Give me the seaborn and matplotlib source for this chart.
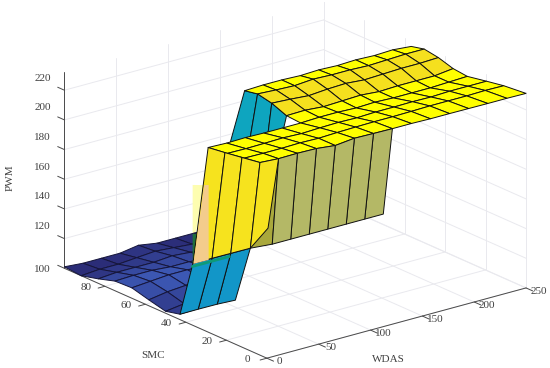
import numpy as np
import seaborn as sns
from matplotlib import pyplot as plt
from matplotlib.colors import to_rgba
from mpl_toolkits.mplot3d import proj3d

# tick labels
wdas_ticks = [0, 50, 100, 150, 200, 250]
smc_ticks = [0, 20, 40, 60, 80]
pwm_ticks = [100, 120, 140, 160, 180, 200, 220]

# grid columns of the surface
wdas_grid = [0, 17.9, 35.7, 53.6, 71.4, 89.3, 107.1, 125, 142.9, 160.7, 178.6, 196.4, 214.3, 232.1, 250]

# low plateau, rows from SMC 100 down to 43
low_smc = [100, 91.7, 83.3, 75, 66.7, 58.3, 50, 43]
low_wdas_limit = [142.9, 142.9, 125, 107.1, 89.3, 71.4, 53.6, 35.7]
low_pwm = [[101, 100, 100, 100, 102, 100, 100, 100, 100],
           [100, 101, 101, 102, 103, 102, 101, 101, 101],
           [103, 104, 104, 104, 105, 104, 102, 102, 102],
           [106.5, 107, 107, 106, 106, 105, 104, 104, 104],
           [107, 108, 109, 109, 108, 106, 106, 106, 106],
           [104, 106, 107, 108, 108, 108, 108, 108, 108],
           [101.3, 103, 104, 105, 105, 105, 105, 105, 105],
           [103.6, 104, 105, 105, 105, 105, 105, 105, 105]]

# high plateau, near part (all columns)
near_smc = [3.4, 3.4, 3.2, 3, 2.8, 2.5, 2.2, 2, 1.8, 1.5, 1.2, 0.9, 0.6, 0.3, 0]
front_smc = [11, 19.5, 29]
front_pwm = [[229.8, 229, 229.4, 229.3, 228.1, 229.8, 229.8, 229.8, 230, 230, 230.3, 230.5, 230.7, 231, 231.1],
             [228.2, 228, 228, 228.3, 228, 228.5, 228.8, 229, 229, 229.2, 229.5, 229.5, 229.5, 229.8, 229.6],
             [226.2, 226, 226.2, 226.5, 226, 226.5, 226.8, 226.5, 227, 227, 227.2, 227, 227.5, 227.5, 227.5],
             [224.4, 224, 224.3, 224, 224, 224, 224.5, 224.5, 224, 224.5, 224, 224, 224, 224.5, 225]]

# high plateau, far part (WDAS from 89.3)
back_smc = [29, 36, 43.3, 50.3, 56.7]
back_pwm = [[224, 224.5, 224.5, 224, 224.5, 224, 224, 224, 224.5, 225],
            [224.7, 225, 224, 224.5, 225, 224, 224.5, 224.5, 224.5, 226],
            [228.7, 228, 227, 228, 228.5, 227.5, 228, 228.5, 228.5, 229],
            [230.7, 230, 229.5, 230.5, 230, 230, 229.5, 230, 230.5, 230.5],
            [229, 229.5, 229.5, 229, 229.5, 229, 229.5, 229, 229.5, 228.4]]

# wall behind the plateau
cyan_wdas = [[89.3] * 4, [71.4] * 4]
cyan_smc = [[56.7, 50.3, 43.3, 36], [61.9, 49.6, 39.8, 35.8]]
cyan_pwm = [[229, 230.7, 228.7, 224.7], [158.7, 166.2, 172.1, 174.6]]

# lower part of the front wall
strip_wdas = [0, 17.9, 35.7, 53.6]
strip_smc = [[36.5, 36.2, 36.1, 35.6], [42.9, 43.1, 42.8, 43]]
strip_pwm = [[141.8, 142, 142, 142.4], [103.6, 103.5, 103.7, 102.9]]

# upper part of the front wall
wall_wdas = [[0, 0, 0, 0, 17.9], [0, 17.9, 35.7, 53.6, 17.9]]
wall_smc = [[29, 20.7, 12.3, 3.4, 3.4], [36.5, 36.2, 36.1, 35.6, 8.6]]
wall_pwm = [[224.4, 226, 227.8, 229.8, 229], [141.8, 142, 142, 142.4, 179]]

# underside below the near edge
olive_wdas = [[17.9, 17.9, 35.7, 53.6, 71.4, 89.3, 107.1, 125], [53.6, 17.9, 35.7, 53.6, 71.4, 89.3, 107.1, 125]]
olive_smc = [[3.4, 3.4, 3.2, 3, 2.8, 2.5, 2.2, 2], [35.6, 6.5, 6.5, 6.5, 6.5, 6.5, 6.5, 6.5]]
olive_pwm = [[229, 229, 229.4, 229.3, 228.1, 229.8, 229.8, 229.8], [142.4, 169.5, 169.5, 169.5, 169.5, 169.5, 169.5, 169.5]]

# washed out patches on the front wall
pale_smc = [[36.9, 31.2], [36.9, 35.5]]
pale_pwm = [[194.7, 198.1], [161.7, 162.5]]
dark_smc = [[36.9, 34.5], [36.9, 36.5]]
dark_pwm = [[161.7, 163.2], [141.6, 141.8]]
peach_smc = [[31.2, 29], [36.5, 29]]
peach_pwm = [[198.1, 199.5], [141.8, 149]]

sns.set_theme(style='white')
plt.rcParams['font.family'] = ['Liberation Serif', 'DejaVu Serif']

low_cmap = sns.blend_palette(['#2a2a74', '#3c58b4'], as_cmap=True)
TEXT = '#404040'
GRID = '#e9e9ee'
AXIS = '#4a4a4a'


def surf(ax, x, y, z, colors, order, lw=0.7, edge='#101010'):
    """one surface piece with flat face colours"""
    x, y, z = np.array(x, float), np.array(y, float), np.array(z, float)
    if isinstance(colors, str):
        colors = np.tile(to_rgba(colors), (z.shape[0]-1, z.shape[1]-1, 1))
    ax.plot_surface(x, y, z, facecolors=colors, shade=False, rstride=1, cstride=1,
                    edgecolor=edge, linewidth=lw, zorder=order)


def tick_label(ax, w, s, p, label):
    """tick label at a data position, as plain 2d text"""
    x, y, _ = proj3d.proj_transform(w, s, p, ax.get_proj())
    ax.text2D(x, y, label, transform=ax.transData, color=TEXT, fontsize=8, ha='center', va='center')


fig = plt.figure(figsize=(5.5, 3.68), dpi=100)
ax = fig.add_axes([0.0277, -0.0031, 1, 1], projection='3d', proj_type='ortho')
ax.computed_zorder = False
ax.set_axis_off()
ax.view_init(elev=20.3, azim=-128)
ax.set_box_aspect((1, 1, 0.635), zoom=1.345)

# grid on the floor and the two back walls
for w in wdas_ticks:
    ax.plot([w, w], [0, 100], [100, 100], color=GRID, lw=0.7, zorder=1)
    ax.plot([w, w], [100, 100], [100, 232], color=GRID, lw=0.7, zorder=1)
for s in smc_ticks + [100]:
    ax.plot([0, 250], [s, s], [100, 100], color=GRID, lw=0.7, zorder=1)
    ax.plot([250, 250], [s, s], [100, 232], color=GRID, lw=0.7, zorder=1)
for p in pwm_ticks:
    ax.plot([0, 250], [100, 100], [p, p], color=GRID, lw=0.7, zorder=1)
    ax.plot([250, 250], [0, 100], [p, p], color=GRID, lw=0.7, zorder=1)

# axis lines and tick marks
ax.plot([0, 250], [0, 0], [100, 100], color=AXIS, lw=0.7, zorder=2)
ax.plot([0, 0], [0, 100], [100, 100], color=AXIS, lw=0.7, zorder=2)
ax.plot([0, 0], [100, 100], [100, 232], color=AXIS, lw=0.7, zorder=2)
for w in wdas_ticks:
    ax.plot([w, w], [0, -3.3], [100, 100], color=AXIS, lw=0.7, zorder=2)
for s in smc_ticks:
    ax.plot([0, -6.5], [s, s], [100, 100], color=AXIS, lw=0.7, zorder=2)
for p in pwm_ticks:
    ax.plot([0, 0], [100, 103.3], [p, p], color=AXIS, lw=0.7, zorder=2)

fig.text(10/550, 1-178/368, 'PWM', color=TEXT, fontsize=8, rotation=90, ha='center', va='center')
fig.text(153/550, 1-355/368, 'SMC', color=TEXT, fontsize=8, ha='center', va='center')
fig.text(388/550, 1-360/368, 'WDAS', color=TEXT, fontsize=8, ha='center', va='center')

# pale patch sits behind the wall
surf(ax, [[0, 0], [0, 0]], pale_smc, pale_pwm, '#fdfdb0', 2.5, lw=0)

# low plateau
low_x = np.minimum.outer(np.array(low_wdas_limit), np.array(wdas_grid[:9]))
low_y = np.tile(np.array(low_smc)[:, None], (1, 9))
low_z = np.array(low_pwm)
low_mean = (low_z[:-1, :-1] + low_z[1:, :-1] + low_z[:-1, 1:] + low_z[1:, 1:]) / 4
surf(ax, low_x, low_y, low_z, low_cmap((low_mean - 100) / 8), 3, edge='#15153a')
surf(ax, [[0, 0], [0, 0]], dark_smc, dark_pwm, '#1f6e3c', 3.5, lw=0)

# wall behind the plateau
surf(ax, cyan_wdas, cyan_smc, cyan_pwm, '#0ea5bf', 4)

# high plateau
front_x = np.tile(np.array(wdas_grid), (4, 1))
front_y = np.array([near_smc] + [[s] * 15 for s in front_smc])
back_x = np.tile(np.array(wdas_grid[5:]), (5, 1))
back_y = np.tile(np.array(back_smc)[:, None], (1, 10))
bright = to_rgba('#ffff00')
warm = to_rgba('#f5e01e')
back_colors = np.array([[c] * 9 for c in [bright, warm, warm, bright]])
surf(ax, back_x, back_y, back_pwm, back_colors, 5)
surf(ax, front_x, front_y, front_pwm, '#ffff00', 6)

# front wall
surf(ax, np.tile(np.array(strip_wdas), (2, 1)), strip_smc, strip_pwm, '#1296c8', 7)
olive_colors = np.array([[to_rgba('#a9a83c')] + [to_rgba('#b4b866')] * 6])
surf(ax, olive_wdas, olive_smc, olive_pwm, olive_colors, 8)
ax.plot([0, 35.7], [36.8, 36.8], [139.5, 139.5], color='#0e9a78', lw=2, zorder=8.5)
surf(ax, wall_wdas, wall_smc, wall_pwm, '#f6e31e', 9)
surf(ax, [[0, 0], [0, 0]], peach_smc, peach_pwm, '#f3cc8c', 10, lw=0)

ax.set_xlim(0, 250)
ax.set_ylim(0, 100)
ax.set_zlim(100, 232)

# labels need the final limits for their projection
for w in wdas_ticks:
    tick_label(ax, w, -6.15, 101.3, str(w))
for s in smc_ticks:
    tick_label(ax, -18.4, s, 102.8, str(s))
for p in pwm_ticks:
    tick_label(ax, 0, 110.8, 92.8 if p == 100 else p + 1.5, str(p))

# the square 3d axes box is narrower than the figure
for child in ax.get_children():
    child.set_clip_on(False)

plt.savefig('out.png', dpi=100)
